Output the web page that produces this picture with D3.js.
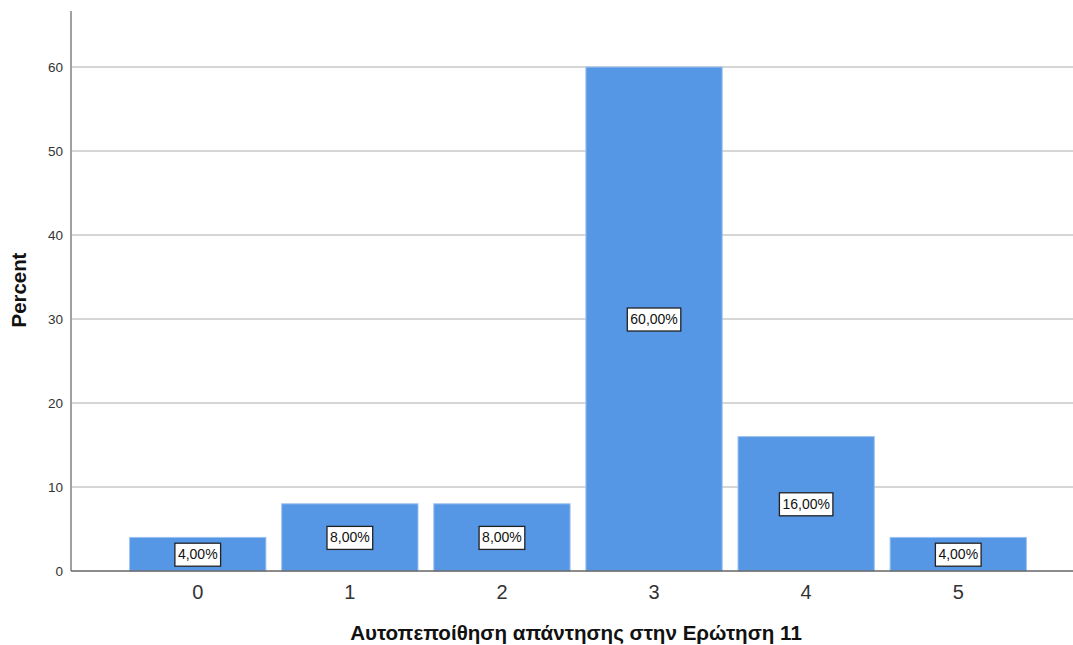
<!DOCTYPE html>
<html>
<head>
<meta charset="utf-8">
<script src="https://cdn.jsdelivr.net/npm/d3@7"></script>
<style>
  html, body { margin: 0; padding: 0; background: #fff; }
  svg { display: block; font-family: "Liberation Sans", Arial, sans-serif; }
</style>
</head>
<body>
<svg id="chart" width="1073" height="645"></svg>
<script>
// Response categories and their percentages
const categories = ["0", "1", "2", "3", "4", "5"];
const percents = [4, 8, 8, 60, 16, 4];
const yTicks = [0, 10, 20, 30, 40, 50, 60];
const xTitle = "Αυτοπεποίθηση απάντησης στην Ερώτηση 11";
const yTitle = "Percent";

const svg = d3.select("#chart");
const plotLeft = 71, plotRight = 1073, plotTop = 11, plotBottom = 571;

const x = d3.scaleBand()
  .domain(categories)
  .range([122, 1034])
  .paddingInner(0.104)
  .paddingOuter(0.05);

const y = d3.scaleLinear()
  .domain([0, 66.67])
  .range([plotBottom, plotTop]);

// Horizontal gridlines
svg.append("g")
  .selectAll("line")
  .data(yTicks.filter(d => d > 0))
  .join("line")
  .attr("x1", plotLeft)
  .attr("x2", plotRight)
  .attr("y1", d => y(d))
  .attr("y2", d => y(d))
  .attr("stroke", "#d6d6d6")
  .attr("stroke-width", 2);

// Bars
svg.append("g")
  .selectAll("rect")
  .data(percents)
  .join("rect")
  .attr("x", (d, i) => x(categories[i]))
  .attr("y", d => y(d))
  .attr("width", x.bandwidth())
  .attr("height", d => plotBottom - y(d))
  .attr("fill", "#5596e5")
  .attr("stroke", "#9cc2f0")
  .attr("stroke-width", 1);

// Y axis
const yAxis = d3.axisLeft(y).tickValues(yTicks).tickSize(0).tickPadding(8).tickFormat(d3.format("d"));
const gy = svg.append("g").attr("transform", `translate(${plotLeft},0)`).call(yAxis);
gy.select(".domain").remove();
gy.selectAll("text").attr("font-size", 13.5).attr("fill", "#333").attr("font-family", "Liberation Sans, Arial, sans-serif");
svg.append("line")
  .attr("x1", plotLeft).attr("x2", plotLeft)
  .attr("y1", plotTop).attr("y2", plotBottom)
  .attr("stroke", "#a0a0a0").attr("stroke-width", 2);

// X axis baseline and category labels
svg.append("line")
  .attr("x1", plotLeft).attr("x2", plotRight)
  .attr("y1", plotBottom).attr("y2", plotBottom)
  .attr("stroke", "#666").attr("stroke-width", 1.5);
const xAxis = d3.axisBottom(x).tickSize(0).tickPadding(14);
const gx = svg.append("g").attr("transform", `translate(0,${plotBottom})`).call(xAxis);
gx.select(".domain").remove();
gx.selectAll("text").attr("font-size", 20).attr("fill", "#333").attr("font-family", "Liberation Sans, Arial, sans-serif");

// Value labels at bar mid-height
const labels = svg.append("g")
  .selectAll("g")
  .data(percents)
  .join("g")
  .attr("transform", (d, i) => `translate(${x(categories[i]) + x.bandwidth() / 2},${y(d / 2)})`);
labels.each(function(d) {
  const g = d3.select(this);
  const t = g.append("text")
    .attr("text-anchor", "middle")
    .attr("dy", "0.36em")
    .attr("font-size", 14)
    .attr("fill", "#111")
    .text(d3.format(".2f")(d).replace(".", ",") + "%");
  const bb = t.node().getBBox();
  g.insert("rect", "text")
    .attr("x", bb.x - 3)
    .attr("y", -11)
    .attr("width", bb.width + 6)
    .attr("height", 23)
    .attr("fill", "#fff")
    .attr("stroke", "#222")
    .attr("stroke-width", 1.3);
});

// Axis titles
svg.append("text")
  .attr("x", 576)
  .attr("y", 640)
  .attr("text-anchor", "middle")
  .attr("font-size", 20.6)
  .attr("font-weight", "bold")
  .attr("fill", "#111")
  .text(xTitle);

svg.append("text")
  .attr("transform", "translate(26,290) rotate(-90)")
  .attr("text-anchor", "middle")
  .attr("font-size", 20.4)
  .attr("font-weight", "bold")
  .attr("fill", "#111")
  .text(yTitle);
</script>
</body>
</html>
